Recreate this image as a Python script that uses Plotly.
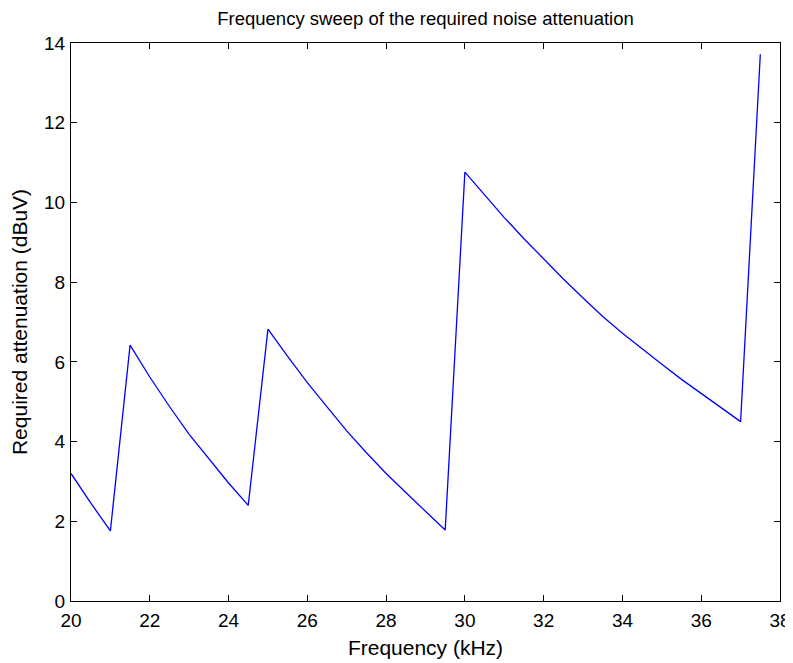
import plotly.graph_objects as go

freq_khz = [20, 20.5, 21, 21.5, 22, 22.5, 23, 23.5, 24, 24.5,
            25, 25.5, 26, 26.5, 27, 27.5, 28, 28.5, 29, 29.5,
            30, 30.5, 31, 31.5, 32, 32.5, 33, 33.5, 34, 34.5,
            35, 35.5, 36, 36.5, 37, 37.5]
attenuation = [3.20, 2.46, 1.76, 6.42, 5.62, 4.88, 4.18, 3.56, 2.96, 2.40,
               6.82, 6.14, 5.48, 4.87, 4.27, 3.72, 3.20, 2.72, 2.24, 1.78,
               10.76, 10.18, 9.62, 9.09, 8.58, 8.08, 7.60, 7.14, 6.72, 6.32,
               5.94, 5.56, 5.20, 4.86, 4.50, 13.72]

x_ticks = [20, 22, 24, 26, 28, 30, 32, 34, 36, 38]
y_ticks = [0, 2, 4, 6, 8, 10, 12, 14]

font_family = "Liberation Sans, Arial, Helvetica, sans-serif"

# The page body has a default 8px margin, so the figure is sized and
# positioned to compensate.
FIG_W, FIG_H = 785, 655

fig = go.Figure()
fig.add_trace(go.Scatter(x=freq_khz, y=attenuation, mode="lines",
                         line=dict(color="#0000ff", width=1.3),
                         showlegend=False, hoverinfo="x+y"))

axis_common = dict(showline=True, linecolor="black", linewidth=1.3, mirror="ticks",
                   ticks="inside", ticklen=6, tickwidth=1.2, tickcolor="black",
                   showgrid=False, zeroline=False, automargin=False,
                   tickfont=dict(family=font_family, size=19, color="black"))

fig.update_layout(
    width=FIG_W, height=FIG_H,
    margin=dict(l=63, r=13, t=35, b=62),
    paper_bgcolor="white", plot_bgcolor="white",
    font=dict(family=font_family, size=19, color="black"),
    title=dict(text="Frequency sweep of the required noise attenuation",
               x=(417.5 / FIG_W), xref="container", xanchor="center",
               y=1 - 11 / FIG_H, yref="container", yanchor="middle",
               font=dict(family=font_family, size=18.5, color="black")),
    xaxis=dict(range=[20, 38], tickvals=x_ticks, ticktext=[str(v) for v in x_ticks],
               ticklabelstandoff=2,
               title=dict(text="Frequency (kHz)", standoff=10,
                          font=dict(family=font_family, size=21)),
               **axis_common),
    yaxis=dict(range=[0, 14], tickvals=y_ticks, ticktext=[str(v) for v in y_ticks],
               ticklabelstandoff=1,
               title=dict(text="Required attenuation (dBuV)", standoff=11,
                          font=dict(family=font_family, size=21)),
               **axis_common),
)

fig.write_html("out.html")
